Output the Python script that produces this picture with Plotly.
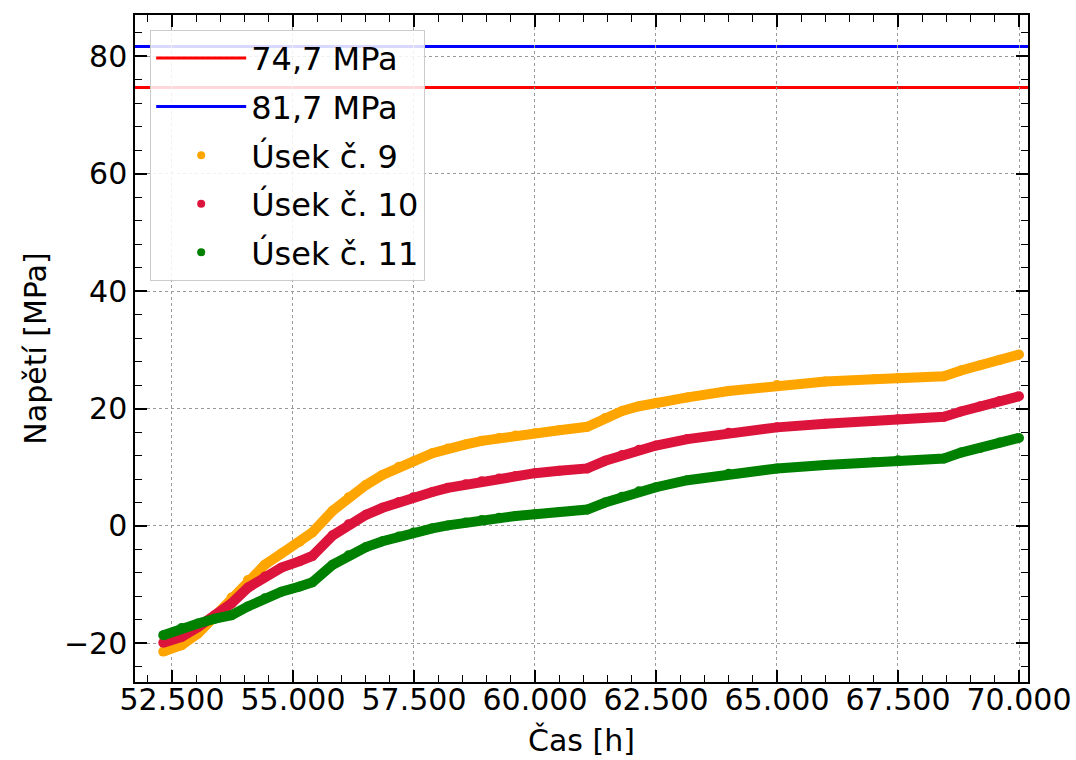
import plotly.graph_objects as go

# Time [h] at which the stress of each section was sampled
cas = [52.32, 52.70, 53.04, 53.39, 53.73, 54.07, 54.42, 54.76, 55.14, 55.40,
       55.82, 56.15, 56.51, 56.85, 57.19, 57.49, 57.88, 58.20, 58.57, 58.90,
       59.26, 59.60, 60.00, 60.50, 61.08, 61.45, 61.80, 62.15, 62.50, 63.15,
       64.00, 65.00, 66.00, 67.00, 67.50, 68.45, 68.80, 69.20, 69.60, 70.00]

# Stress [MPa] of sections 9, 10 and 11
usek_9 = [-21.4, -20.3, -18.3, -15.2, -12.2, -9.2, -6.6, -4.7, -2.7, -1.1,
          2.6, 4.9, 7.0, 8.7, 10.1, 11.0, 12.4, 13.2, 13.9, 14.5,
          15.0, 15.4, 15.8, 16.3, 16.9, 18.4, 19.6, 20.4, 21.0, 21.9,
          23.0, 24.0, 24.6, 25.0, 25.2, 25.5, 26.5, 27.4, 28.3, 29.2]
usek_10 = [-19.9, -18.9, -17.2, -15.2, -13.2, -10.5, -8.6, -7.1, -6.0, -5.1,
           -1.6, 0.3, 1.9, 3.1, 4.1, 4.9, 5.8, 6.5, 7.1, 7.6,
           8.1, 8.5, 9.0, 9.4, 9.8, 11.1, 12.1, 13.0, 13.7, 14.8,
           15.9, 16.8, 17.4, 17.9, 18.2, 18.6, 19.5, 20.4, 21.3, 22.1]
usek_11 = [-18.6, -17.4, -16.6, -15.8, -15.2, -13.7, -12.3, -11.2, -10.3, -9.6,
           -6.6, -5.0, -3.6, -2.6, -1.8, -1.1, -0.4, 0.1, 0.6, 1.0,
           1.4, 1.7, 2.0, 2.4, 2.8, 4.0, 5.0, 5.9, 6.6, 7.8,
           8.9, 9.8, 10.4, 10.9, 11.2, 11.5, 12.5, 13.3, 14.2, 15.0]

# Strength limits drawn as horizontal lines
limity = [74.7, 81.7]
limity_popisky = ["74,7 MPa", "81,7 MPa"]
limity_barvy = ["red", "blue"]

serie = [
    ("Úsek č. 9", usek_9, "#FFA500"),
    ("Úsek č. 10", usek_10, "#DC143C"),
    ("Úsek č. 11", usek_11, "#008000"),
]

x_ticks = [52.5, 55.0, 57.5, 60.0, 62.5, 65.0, 67.5, 70.0]
y_ticks = [-20, 0, 20, 40, 60, 80]

FONT = "DejaVu Sans"
FS = 30        # tick labels and axis titles
FS_LEG = 32    # legend entries

fig = go.Figure()

shapes = []
for i, (hodnota, popis, barva) in enumerate(zip(limity, limity_popisky, limity_barvy)):
    shapes.append(dict(
        type="line", xref="x domain", x0=0, x1=1, yref="y", y0=hodnota, y1=hodnota,
        line=dict(color=barva, width=3), layer="below",
        showlegend=True, name=popis, legendrank=i + 1, legendgroup=f"g{i}",
    ))

for j, (nazev, hodnoty, barva) in enumerate(serie):
    # dense band of measured points
    fig.add_trace(go.Scatter(
        x=cas, y=hodnoty, mode="lines+markers",
        line=dict(color=barva, width=10),
        marker=dict(color=barva, size=10),
        showlegend=False, hoverinfo="skip",
    ))
    # legend entry with a small dot
    fig.add_trace(go.Scatter(
        x=[None], y=[None], mode="markers", name=nazev,
        marker=dict(color=barva, size=8),
        legendrank=10 + j, legendgroup=f"s{j}",
    ))

axis_common = dict(
    automargin=False,
    showline=True, linecolor="black", linewidth=1.5, mirror="ticks",
    ticks="inside", ticklen=12, tickwidth=1.5, tickcolor="black",
    showgrid=True, gridcolor="#9a9a9a", gridwidth=0.8, griddash="3px,3px",
    zeroline=False,
    tickfont=dict(family=FONT, size=FS, color="black"),
)

fig.update_layout(
    width=1076, height=760,
    margin=dict(l=135, r=48, t=15, b=78),
    paper_bgcolor="white", plot_bgcolor="white",
    font=dict(family=FONT, size=FS, color="black"),
    shapes=shapes,
    showlegend=True,
    legend=dict(
        x=0.017, y=0.978, xanchor="left", yanchor="top",
        bgcolor="rgba(255,255,255,0.85)", bordercolor="#cccccc", borderwidth=1,
        font=dict(family=FONT, size=FS_LEG, color="black"),
        itemwidth=90, traceorder="grouped", tracegroupgap=4,
    ),
    xaxis=dict(
        axis_common,
        range=[51.736, 70.186],
        tickvals=x_ticks, tickformat=".3f",
        ticklabelstandoff=-10,
        minor=dict(dtick=0.5, tick0=52.5, ticks="inside", ticklen=7,
                   tickwidth=1, tickcolor="black", showgrid=False),
        title=dict(text="Čas [h]", font=dict(family=FONT, size=FS), standoff=14),
    ),
    yaxis=dict(
        axis_common,
        range=[-26.58, 87.05],
        tickvals=y_ticks,
        minor=dict(dtick=4, tick0=0, ticks="inside", ticklen=7,
                   tickwidth=1, tickcolor="black", showgrid=False),
        title=dict(text="Napětí [MPa]", font=dict(family=FONT, size=FS), standoff=8),
    ),
)

fig.write_html("out.html")
